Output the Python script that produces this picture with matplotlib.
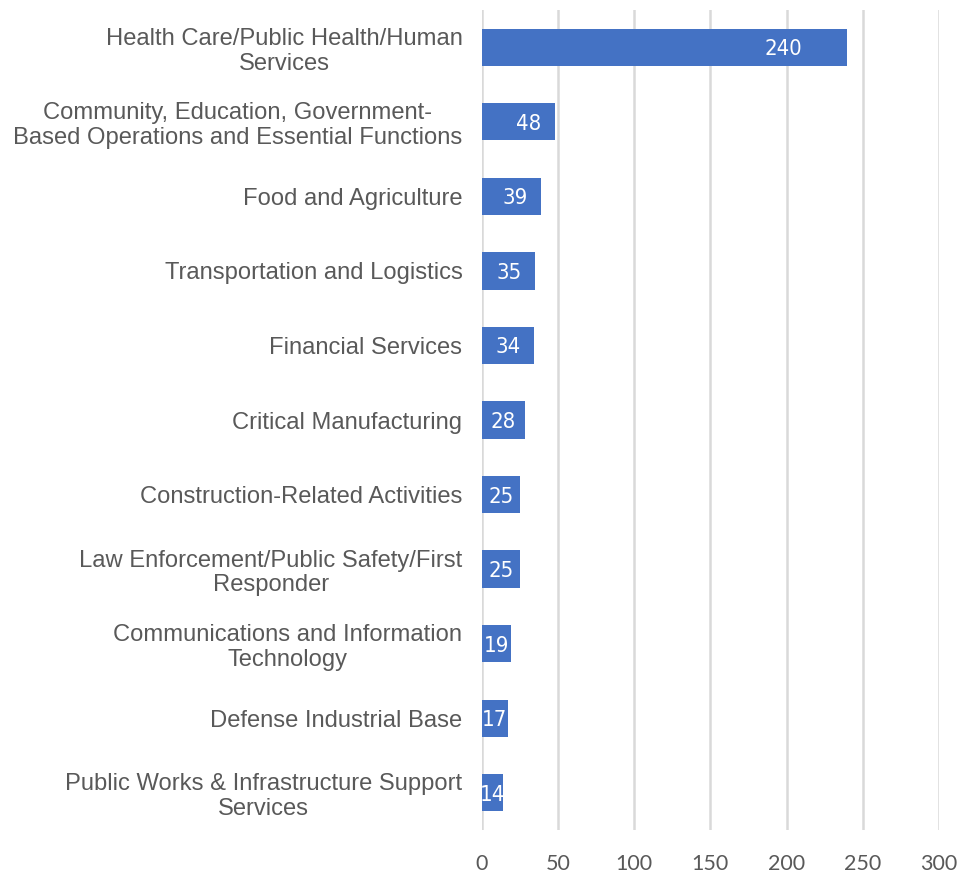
import matplotlib
matplotlib.use("Agg")
import matplotlib.pyplot as plt
from matplotlib.transforms import offset_copy

categories = [
    "Health Care/Public Health/Human\nServices",
    "Community, Education, Government-\nBased Operations and Essential Functions",
    "Food and Agriculture",
    "Transportation and Logistics",
    "Financial Services",
    "Critical Manufacturing",
    "Construction-Related Activities",
    "Law Enforcement/Public Safety/First\nResponder",
    "Communications and Information\nTechnology",
    "Defense Industrial Base",
    "Public Works & Infrastructure Support\nServices",
]
values = [240, 48, 39, 35, 34, 28, 25, 25, 19, 17, 14]
xticks = [0, 50, 100, 150, 200, 250, 300]

BAR = "#4472C4"
TXT = "#595959"
GRID = "#D9D9D9"

fig = plt.figure(figsize=(9.58, 8.73), dpi=100)
ax = fig.add_axes([0.503, 0.0493, 0.477, 0.9392])

y = list(range(len(categories)))
ax.barh(y, values, height=0.5, color=BAR, zorder=3)
ax.set_ylim(len(categories) - 0.5, -0.5)
ax.set_xlim(0, 300)
ax.set_xticks(xticks)
ax.set_xticklabels([str(t) for t in xticks], fontfamily="Lato", fontsize=15.5, color=TXT)
ax.set_yticks(y)
ax.set_yticklabels(categories, fontfamily="Liberation Sans", fontsize=17.1,
                   color=TXT, linespacing=1.17, multialignment="center")
ax.tick_params(axis="both", length=0)
ax.tick_params(axis="y", pad=14)
ax.tick_params(axis="x", pad=17)
for s in ax.spines.values():
    s.set_visible(False)
ax.grid(axis="x", color=GRID, linewidth=1.8, zorder=0)
ax.set_axisbelow(True)

px_per_unit = 457 / 300
for yi, v in zip(y, values):
    barpx = v * px_per_unit
    off = max(barpx / 2, barpx - 26) - barpx
    if v > 100:
        off = -64
    tr = offset_copy(ax.transData, fig=fig, x=off, y=-2, units="dots")
    ax.text(v, yi, str(v), transform=tr, ha="center", va="center",
            color="white", family=["Liberation Sans Narrow", "DejaVu Sans"],
            fontstretch="condensed", fontsize=15.8, zorder=4)

fig.savefig("out.png", dpi=100)
